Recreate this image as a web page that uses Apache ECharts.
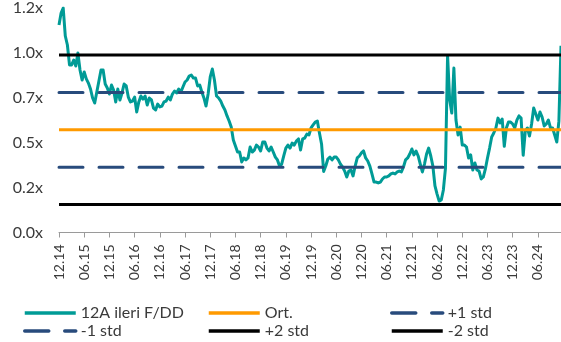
<!DOCTYPE html>
<html>
<head>
<meta charset="utf-8">
<script src="https://cdn.jsdelivr.net/npm/echarts@6/dist/echarts.min.js"></script>
<style>
  html, body { margin: 0; padding: 0; background: #fff; }
  #chart { width: 561px; height: 342px; }
</style>
</head>
<body>
<div id="chart"></div>
<script>
// 12-month forward P/BV multiple, half-monthly readings, Dec 2014 - Nov 2024
const v2014 = [1.155, 1.222];
const v2015 = [1.25, 1.094, 1.044, 0.933, 0.933, 0.960, 0.927, 0.999, 0.905, 0.849, 0.894, 0.855,
               0.832, 0.799, 0.749, 0.721, 0.782, 0.844, 0.905, 0.905, 0.827, 0.805, 0.771, 0.821];
const v2016 = [0.793, 0.727, 0.799, 0.738, 0.777, 0.827, 0.816, 0.754, 0.727, 0.732, 0.754, 0.671,
               0.727, 0.760, 0.743, 0.760, 0.710, 0.749, 0.738, 0.693, 0.682, 0.715, 0.699, 0.704];
const v2017 = [0.727, 0.732, 0.754, 0.738, 0.771, 0.788, 0.777, 0.799, 0.782, 0.810, 0.838, 0.849,
               0.871, 0.877, 0.860, 0.860, 0.816, 0.821, 0.782, 0.749, 0.704, 0.771, 0.866, 0.910];
const v2018 = [0.849, 0.760, 0.749, 0.732, 0.704, 0.682, 0.649, 0.621, 0.587, 0.515, 0.482, 0.448,
               0.448, 0.393, 0.415, 0.404, 0.415, 0.476, 0.448, 0.459, 0.487, 0.476, 0.454, 0.504];
const v2019 = [0.504, 0.470, 0.454, 0.476, 0.448, 0.420, 0.404, 0.370, 0.381, 0.426, 0.470, 0.487,
               0.470, 0.498, 0.487, 0.509, 0.521, 0.459, 0.521, 0.526, 0.548, 0.543, 0.582, 0.599];
const v2020 = [0.615, 0.621, 0.554, 0.493, 0.340, 0.370, 0.409, 0.420, 0.404, 0.420, 0.420, 0.404,
               0.381, 0.365, 0.342, 0.309, 0.342, 0.348, 0.315, 0.370, 0.415, 0.426, 0.443, 0.454];
const v2021 = [0.415, 0.398, 0.370, 0.326, 0.281, 0.281, 0.276, 0.281, 0.298, 0.309, 0.309, 0.315,
               0.326, 0.331, 0.326, 0.337, 0.342, 0.337, 0.365, 0.404, 0.415, 0.437, 0.465, 0.432];
const v2022 = [0.454, 0.426, 0.381, 0.337, 0.381, 0.437, 0.470, 0.426, 0.370, 0.259, 0.214, 0.175,
               0.181, 0.237, 0.359, 0.985, 0.738, 0.665, 0.916, 0.626, 0.543, 0.587, 0.487, 0.487];
const v2023 = [0.476, 0.415, 0.432, 0.348, 0.387, 0.348, 0.342, 0.298, 0.309, 0.354, 0.415, 0.470,
               0.532, 0.554, 0.582, 0.637, 0.610, 0.632, 0.480, 0.582, 0.615, 0.615, 0.604, 0.582];
const v2024 = [0.626, 0.649, 0.637, 0.430, 0.565, 0.582, 0.537, 0.604, 0.693, 0.660, 0.626, 0.671,
               0.643, 0.593, 0.604, 0.626, 0.582, 0.582, 0.543, 0.504, 0.620, 1.040];

// Average and standard-deviation bands
const avg = 0.572;
const plus1 = 0.780;
const minus1 = 0.364;
const plus2 = 0.988;
const minus2 = 0.156;

const tickLabels = ['12.14', '06.15', '12.15', '06.16', '12.16', '06.17', '12.17', '06.18', '12.18', '06.19',
                    '12.19', '06.20', '12.20', '06.21', '12.21', '06.22', '12.22', '06.23', '12.23', '06.24'];

const seriesNames = ['12A ileri F/DD', 'Ort.', '+1 std', '-1 std', '+2 std', '-2 std'];

const values = [].concat(v2014, v2015, v2016, v2017, v2018, v2019, v2020, v2021, v2022, v2023, v2024);

// Half-month category keys, two per month starting Dec 2014
const categories = [];
for (let m = 0; categories.length < values.length; m++) {
  const month = (11 + m) % 12 + 1;
  const year = 2014 + Math.floor((11 + m) / 12);
  const key = String(month).padStart(2, '0') + '.' + String(year).slice(2);
  categories.push(key + '/1', key + '/2');
}
categories.length = values.length;
const lastIdx = values.length - 1;

const FONT = 'Lato';
const TEXT = '#3a3a3a';
const TEAL = '#009b96';
const ORANGE = '#ff9a00';
const NAVY = '#284b7c';
const BLACK = '#000000';

function level(name, v, color, dashed) {
  return {
    name: name,
    type: 'line',
    data: [[0, v], [lastIdx, v]],
    symbol: 'none',
    silent: true,
    lineStyle: {
      color: color,
      width: 3,
      type: dashed ? [24, 16] : 'solid',
      cap: dashed ? 'round' : 'butt'
    },
    itemStyle: { color: color },
    z: 3
  };
}

function legendAt(name, left, top) {
  return {
    data: [name],
    left: left,
    top: top,
    orient: 'horizontal',
    itemWidth: 51,
    itemHeight: 14,
    itemGap: 0,
    padding: 0,
    selectedMode: false,
    itemStyle: { opacity: 0 },
    lineStyle: { width: 3.5 },
    textStyle: { fontFamily: FONT, fontSize: 16, color: TEXT, padding: [0, 0, 0, 0] }
  };
}

const chart = echarts.init(document.getElementById('chart'), null, { renderer: 'canvas' });
chart.setOption({
  animation: false,
  backgroundColor: '#ffffff',
  grid: { left: 59, right: 0, top: 8, bottom: 109.5, containLabel: false },
  legend: [
    legendAt(seriesNames[0], 23, 305),
    legendAt(seriesNames[3], 23, 323),
    legendAt(seriesNames[1], 207, 305),
    legendAt(seriesNames[4], 207, 323),
    legendAt(seriesNames[2], 390, 305),
    legendAt(seriesNames[5], 390, 323)
  ],
  xAxis: {
    type: 'category',
    data: categories,
    boundaryGap: false,
    axisLine: { show: true, lineStyle: { color: '#9a9a9a', width: 1 } },
    axisTick: { show: true, interval: 11, length: 5, lineStyle: { color: '#9a9a9a' } },
    axisLabel: {
      interval: 11,
      rotate: 90,
      margin: 12,
      fontFamily: FONT,
      fontSize: 14,
      color: TEXT,
      formatter: function (val, idx) { return tickLabels[Math.round(idx / 12)] || ''; }
    },
    splitLine: { show: false }
  },
  yAxis: {
    type: 'value',
    min: 0,
    max: 1.25,
    interval: 0.25,
    axisLine: { show: false },
    axisTick: { show: false },
    splitLine: { show: false },
    axisLabel: {
      margin: 16,
      fontFamily: FONT,
      fontSize: 16,
      color: TEXT,
      formatter: function (v) { return (Math.floor(v * 10 + 1e-6) / 10).toFixed(1) + 'x'; }
    }
  },
  series: [
    {
      name: seriesNames[0],
      type: 'line',
      data: values,
      symbol: 'none',
      lineStyle: { color: TEAL, width: 3, join: 'round' },
      itemStyle: { color: TEAL },
      z: 2
    },
    level(seriesNames[1], avg, ORANGE, false),
    level(seriesNames[2], plus1, NAVY, true),
    level(seriesNames[3], minus1, NAVY, true),
    level(seriesNames[4], plus2, BLACK, false),
    level(seriesNames[5], minus2, BLACK, false)
  ]
});
</script>
</body>
</html>
